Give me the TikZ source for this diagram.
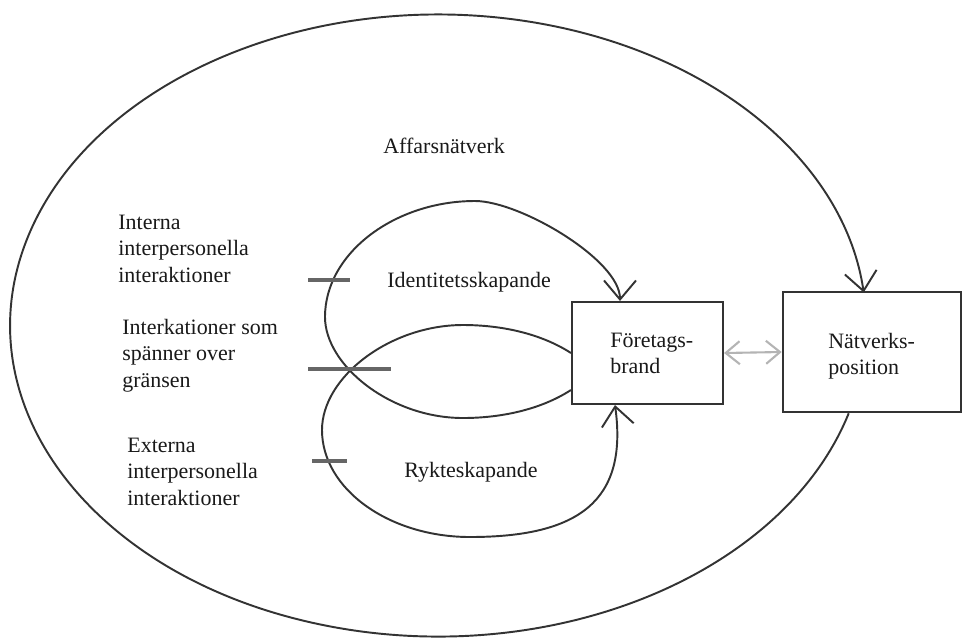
\documentclass[tikz,border=0pt]{standalone}
\usepackage{fontspec}
\setmainfont{Liberation Serif}
\usetikzlibrary{arrows.meta,calc}
% left-aligned stack of lines whose baseline is that of the first line
\newcommand\linesleft[1]{\vtop{\halign{##\hfil\cr#1\crcr}}}
\definecolor{ink}{HTML}{333333}
\definecolor{tickgray}{HTML}{666666}
\definecolor{linkgray}{HTML}{B4B4B4}
\begin{document}
\begin{tikzpicture}[x=0.02cm,y=-0.02cm,
  flow/.style={draw=ink, line width=1.1pt, -{Straight Barb[length=0.38cm,width=0.64cm]}},
  tickmark/.style={draw=tickgray, line width=1.9pt},
  frame/.style={draw=ink, line width=1.2pt, inner sep=0pt},
  lbl/.style={anchor=base west, inner sep=0pt, text=black!90, font=\fontsize{12.5}{15.3}\selectfont},
  twoway/.style={draw=linkgray, line width=1.2pt,
    {Straight Barb[length=0.28cm,width=0.46cm]}-{Straight Barb[length=0.28cm,width=0.46cm]}}
]
\useasboundingbox (0,0) rectangle (963,637);

% the two boxes
\node[frame, minimum width=3.02cm, minimum height=2.04cm] (fb) at (647.5,353) {};
\node[frame, line width=1.5pt, minimum width=3.56cm, minimum height=2.4cm] (np) at (872,352) {};

% labels
\node[lbl] (affars) at (383,153) {Affarsnätverk};
\node[lbl] (interna) at (118,229) {\linesleft{Interna\cr interpersonella\cr interaktioner}};
\node[lbl] (grans) at (122,334) {\linesleft{Interkationer som\cr spänner over\cr gränsen}};
\node[lbl] (externa) at (127,452) {\linesleft{Externa\cr interpersonella\cr interaktioner}};
\node[lbl] (ident) at (387,287) {Identitetsskapande};
\node[lbl] (rykte) at (404,477) {Rykteskapande};
\node[lbl] (fbtext) at (610,347) {\linesleft{Företags-\cr brand}};
\node[lbl] (nptext) at (828,348) {\linesleft{Nätverks-\cr position}};

% end points of the loops on the brand box
\coordinate (idStart) at ($(fb.west)+(0,37)$);
\coordinate (idEnd) at ($(fb.north)+(-27.5,0)$);
\coordinate (rpEnd) at ($(fb.south)+(-32.5,0)$);
\coordinate (outStart) at ($(np.south west)+(67,0)$);

% identity loop (upper)
\draw[flow] (idStart) .. controls (540,410) and (500,418) .. (463,418)
  .. controls (390,418) and (325,365) .. (325,317)
  .. controls (325,253) and (395,201) .. (475,201)
  .. controls (520,201) and (620,260) .. (idEnd);

% reputation loop (lower)
\draw[flow] (fb.west) .. controls (540,333) and (500,325) .. (463,325)
  .. controls (390,325) and (322,377) .. (322,430)
  .. controls (322,489) and (389,537) .. (470,537)
  .. controls (580,537) and (628,500) .. (rpEnd);

% business network: the big loop around everything
\draw[flow] (outStart) arc[start angle=16.4, end angle=353.9, x radius=428, y radius=311];

% brand <-> network position
\draw[twoway] (fb.east) -- (np.west);

% interaction ticks
\draw[tickmark] (308,280) -- (350,280);
\draw[tickmark] (308,369) -- (391,369);
\draw[tickmark] (312,461) -- (347,461);
\end{tikzpicture}
\end{document}
